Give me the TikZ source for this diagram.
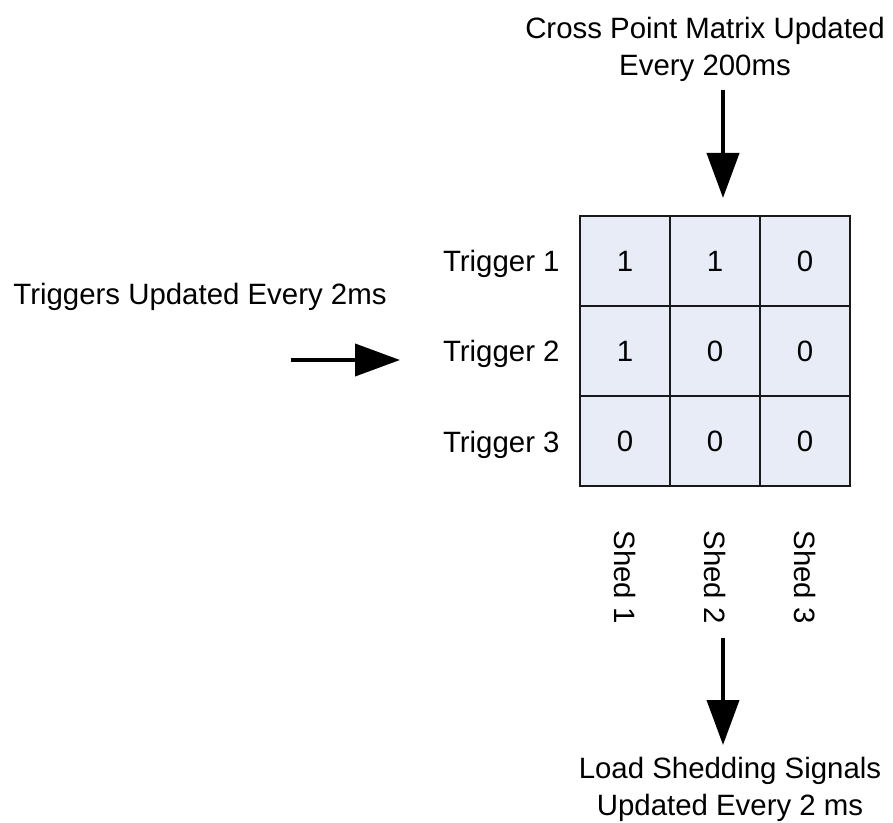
\documentclass[tikz,border=0pt]{standalone}
\usepackage{fontspec}
\setmainfont{Liberation Sans}
\usetikzlibrary{arrows.meta}
\definecolor{cellfill}{RGB}{231,236,247}
\begin{document}
\begin{tikzpicture}[x=0.5pt,y=-0.5pt,
  cell/.style={draw=black!90, line width=1pt, fill=cellfill, minimum width=45pt, minimum height=45pt, inner sep=0pt, font=\fontsize{14.7}{18.5}\selectfont},
  lbl/.style={font=\fontsize{14.7}{18.5}\selectfont, inner sep=0pt, align=center},
  bigarrow/.style={line width=2pt, -{Triangle[length=22.5pt,width=16pt]}}]
\useasboundingbox (0,0) rectangle (893,823);
% matrix cells
\node[cell] (c11) at (625,261) {1};
\node[cell] (c12) at (715,261) {1};
\node[cell] (c13) at (805,261) {0};
\node[cell] (c21) at (625,351) {1};
\node[cell] (c22) at (715,351) {0};
\node[cell] (c23) at (805,351) {0};
\node[cell] (c31) at (625,441) {0};
\node[cell] (c32) at (715,441) {0};
\node[cell] (c33) at (805,441) {0};
% row labels
\node[lbl, anchor=base east] (t1) at (560,272) {Trigger 1};
\node[lbl, anchor=base east] (t2) at (560,362) {Trigger 2};
\node[lbl, anchor=base east] (t3) at (560,452) {Trigger 3};
% column labels
\node[lbl, rotate=-90, anchor=west] (s1) at (625,530) {Shed 1};
\node[lbl, rotate=-90, anchor=west] (s2) at (715,530) {Shed 2};
\node[lbl, rotate=-90, anchor=west] (s3) at (805,530) {Shed 3};
% captions
\node[lbl, anchor=north] (top) at (705,17) {Cross Point Matrix Updated\\Every 200ms};
\node[lbl, anchor=north] (left) at (200,283) {Triggers Updated Every 2ms};
\node[lbl, anchor=north] (bot) at (730,757) {Load Shedding Signals\\Updated Every 2 ms};
% arrows
\coordinate (ta) at (723,90);
\coordinate (tb) at (723,198);
\coordinate (la) at (291,360);
\coordinate (lb) at (400,360);
\coordinate (ba) at (723,638);
\coordinate (bb) at (723,745);
\draw[bigarrow] (ta) -- (tb);
\draw[bigarrow] (la) -- (lb);
\draw[bigarrow] (ba) -- (bb);
\end{tikzpicture}
\end{document}
